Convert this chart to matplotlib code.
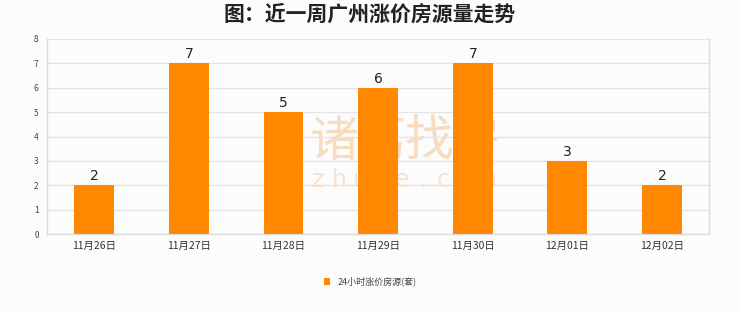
import matplotlib
matplotlib.use("Agg")
import matplotlib.pyplot as plt

plt.rcParams['font.family'] = ['Noto Sans CJK SC', 'DejaVu Sans']

categories = ["11月26日", "11月27日", "11月28日", "11月29日", "11月30日", "12月01日", "12月02日"]
values = [2, 7, 5, 6, 7, 3, 2]
series_name = "24小时涨价房源(套)"
title = "图：近一周广州涨价房源量走势"

bar_color = "#ff8800"
bg = "#fcfcfc"

fig = plt.figure(figsize=(7.4, 3.12), dpi=100, facecolor=bg)
ax = fig.add_axes([0.0635, 0.25, 0.895, 0.625])
ax.set_facecolor(bg)

x = list(range(len(categories)))
bars = ax.bar(x, values, width=0.42, color=bar_color, zorder=3, label=series_name)

for xi, v in zip(x, values):
    ax.text(xi, v + 0.08, str(v), ha="center", va="bottom", fontsize=10,
            family="DejaVu Sans", color="#222222", zorder=4)

ax.set_xlim(-0.5, len(categories) - 0.5)
ax.set_ylim(0, 8)
ax.set_yticks(range(0, 9))
ax.set_xticks(x)
ax.set_xticklabels(categories, fontsize=7.5, color="#333333")
ax.tick_params(axis="y", labelsize=6, colors="#444444", length=0, pad=6)
ax.tick_params(axis="x", length=0, pad=5)
ax.grid(axis="y", color="#e4e4e4", linewidth=1, zorder=0)
for side in ["left", "right", "top", "bottom"]:
    ax.spines[side].set_color("#dddddd")
    ax.spines[side].set_linewidth(1)
ax.spines["top"].set_visible(False)

# faint watermark behind the bars
wm_big = "诸葛找房"
for i, ch in enumerate(wm_big):
    ax.text(0.434 + i * 0.071, 0.47, ch, transform=ax.transAxes, ha="center",
            va="center", fontsize=35, color="#f8dcc0", zorder=1)
wm_small = "zhuge.com"
for i, ch in enumerate(wm_small):
    ax.text(0.41 + i * 0.0315, 0.277, ch, transform=ax.transAxes, ha="center",
            va="center", fontsize=17, family="DejaVu Sans", color="#f8e2cc", zorder=1)

fig.text(0.5, 0.955, title, ha="center", va="center", fontsize=15,
         fontweight="bold", color="#222222")

leg = fig.legend(handles=[bars], labels=[series_name], loc="center",
                 bbox_to_anchor=(0.5, 0.097), frameon=False, fontsize=6.5,
                 handlelength=0.7, handleheight=0.7, handletextpad=0.8)
for t in leg.get_texts():
    t.set_color("#444444")

fig.savefig("out.png", dpi=100, facecolor=bg)
